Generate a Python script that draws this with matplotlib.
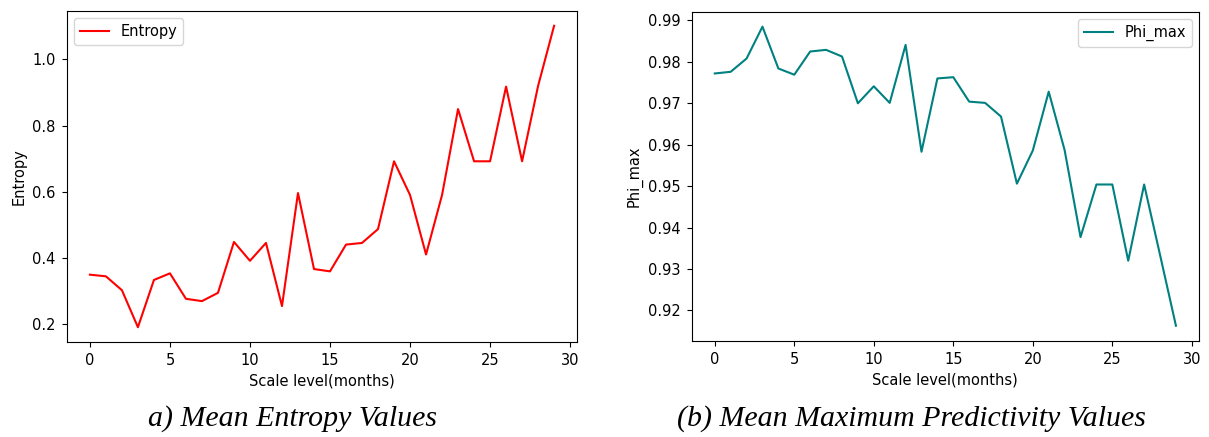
import matplotlib
matplotlib.use("Agg")
import matplotlib.pyplot as plt

scale_levels = list(range(30))
entropy = [0.349, 0.344, 0.302, 0.190, 0.333, 0.353, 0.276, 0.269, 0.294, 0.448,
           0.391, 0.445, 0.254, 0.596, 0.366, 0.359, 0.440, 0.445, 0.487, 0.692,
           0.590, 0.410, 0.590, 0.850, 0.692, 0.692, 0.918, 0.692, 0.920, 1.102]
phi_max = [0.9772, 0.9776, 0.9808, 0.9885, 0.9784, 0.9769, 0.9825, 0.9829, 0.9813, 0.9700,
           0.9741, 0.9701, 0.9841, 0.9583, 0.9760, 0.9763, 0.9704, 0.9701, 0.9668, 0.9506,
           0.9586, 0.9728, 0.9587, 0.9377, 0.9504, 0.9504, 0.9320, 0.9504, 0.9334, 0.9163]
xlabel = "Scale level(months)"
captions = ["a) Mean Entropy Values", "(b) Mean Maximum Predictivity Values"]

W, H = 1209, 437
fig = plt.figure(figsize=(W / 100, H / 100), dpi=100)

ax1 = fig.add_axes([66.7 / W, (H - 342.3) / H, 510.6 / W, 331.6 / H])
ax2 = fig.add_axes([691.7 / W, (H - 340.7) / H, 507.3 / W, 329.0 / H])

ax1.plot(scale_levels, entropy, color="red", label="Entropy")
ax1.set_xlabel(xlabel, fontsize=10.5)
ax1.set_ylabel("Entropy", fontsize=10.5)
ax1.set_xticks([0, 5, 10, 15, 20, 25, 30])
ax1.set_yticks([0.2, 0.4, 0.6, 0.8, 1.0])
ax1.legend(loc="upper left", fontsize=10.5)

ax2.plot(scale_levels, phi_max, color="teal", label="Phi_max")
ax2.set_xlabel(xlabel, fontsize=10.5)
ax2.set_ylabel("Phi_max", fontsize=10.5)
ax2.set_xticks([0, 5, 10, 15, 20, 25, 30])
ax2.set_yticks([0.92, 0.93, 0.94, 0.95, 0.96, 0.97, 0.98, 0.99])
ax2.legend(loc="upper right", fontsize=10.5)

for ax in (ax1, ax2):
    ax.tick_params(labelsize=10.5, pad=4.5)

fig.text(292 / W, 1 - 419 / H, captions[0], ha="center", va="center",
         fontsize=21.5, style="italic", family="Liberation Serif")
fig.text(911 / W, 1 - 419 / H, captions[1], ha="center", va="center",
         fontsize=21.5, style="italic", family="Liberation Serif")

fig.savefig("out.png", dpi=100)
